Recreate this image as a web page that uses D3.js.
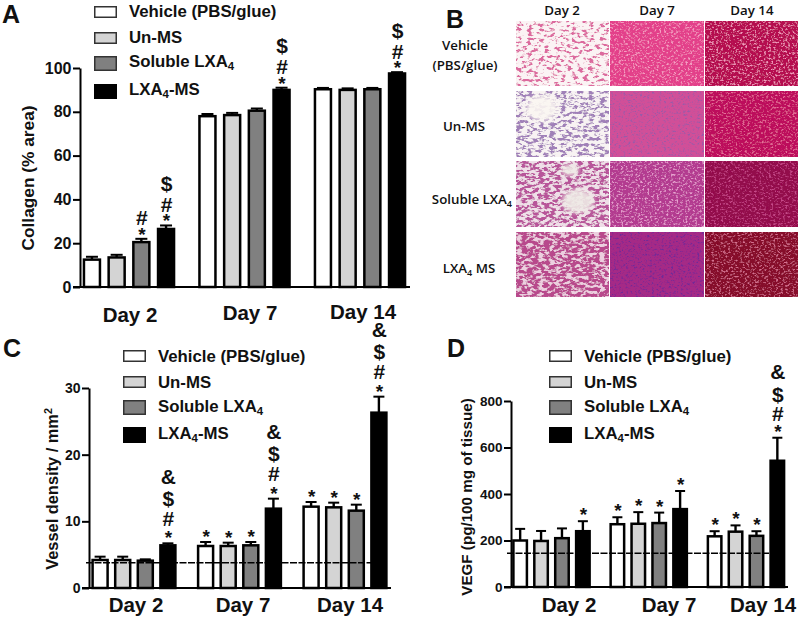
<!DOCTYPE html>
<html><head><meta charset="utf-8">
<script src="https://cdnjs.cloudflare.com/ajax/libs/d3/7.8.5/d3.min.js"></script>
<style>html,body{margin:0;padding:0;background:#fff}svg{display:block}text{font-family:"Liberation Sans",Arial,sans-serif;font-weight:700;fill:#111}</style>
</head><body><svg id="c" width="800" height="619"></svg>
<script>
const days = ["Day 2","Day 7","Day 14"];
const groups = ["Vehicle (PBS/glue)","Un-MS","Soluble LXA4","LXA4-MS"];
const groupColors = ["#ffffff","#d4d4d4","#808080","#000000"];

const collagenMeans  = [[12.5,13.5,20.5,26.5],[78,78.5,80.5,90],[90.3,90,90.3,97.5]];
const collagenErrors = [[1.3,1.2,1.5,1.6],[1,1,1,1],[.6,.7,.6,.6]];
const collagenMarks  = [["","","*#","*#$"],["","","","*#$"],["","","","*#$"]];
const collagenTicks  = [0,20,40,60,80,100];

const vesselMeans  = [[4.2,4.2,4.1,6.4],[6.3,6.3,6.4,11.9],[12.2,12.1,11.6,26.3]];
const vesselErrors = [[.5,.5,.2,.3],[.6,.5,.5,1.5],[.7,.7,.9,2.4]];
const vesselMarks  = [["","","","*#$&"],["*","*","*","*#$&"],["*","*","*","*#$&"]];
const vesselTicks  = [0,10,20,30];
const vesselBaseline = 3.8;

const vegfMeans  = [[200,198,210,240],[270,272,275,335],[218,238,220,543]];
const vegfErrors = [[50,43,42,43],[30,50,45,78],[22,27,20,99]];
const vegfMarks  = [["","","","*"],["*","*","*","*"],["*","*","*","*#$&"]];
const vegfTicks  = [0,200,400,600,800];
const vegfBaseline = 145;

const histologyRows = ["Vehicle","Un-MS","Soluble LXA4","LXA4 MS"];
const tissueBase  = [["#fbf3f4","#e3408a","#b5104f"],["#f8f3f3","#d14f98","#bd0f5c"],["#efdfe8","#b33a90","#930e4c"],["#eccfdf","#a52a86","#860b2c"]];
const tissueSpeck = [["#dc6a9e","#f5a0c4","#f59ac0"],["#a080b8","#9a5aa8","#e8709c"],["#b8559a","#e8a0d0","#c8488a"],["#b84a8c","#6f2c98","#d87090"]];

const svg = d3.select("#c");
const defs = svg.append("defs");

function richText(sel, str){
  const m = str.match(/^(.*LXA)4(.*)$/);
  if(!m){ sel.text(str); return sel; }
  sel.append("tspan").text(m[1]);
  sel.append("tspan").attr("font-size","0.68em").attr("dy","0.3em").text("4");
  if(m[2]) sel.append("tspan").attr("dy","-0.2em").text(m[2]);
  return sel;
}

function panel(cfg){
  const g = svg.append("g");
  const y = d3.scaleLinear().domain(cfg.domain).range([cfg.y0,cfg.y1]);
  const outer = d3.scaleBand().domain(days).range(cfg.xr).paddingInner(cfg.padIn).paddingOuter(0);
  const inner = d3.scaleBand().domain(d3.range(4)).range([0,outer.bandwidth()]);
  const w = cfg.barW;
  const rows = cfg.means.flatMap((row,d)=>row.map((v,s)=>({v,s,d,e:cfg.errors[d][s],m:cfg.marks[d][s],
     cx:outer(days[d])+inner(s)+inner.bandwidth()/2})));
  const eb = g.selectAll("g.eb").data(rows).join("g");
  eb.append("line").attr("x1",d=>d.cx).attr("x2",d=>d.cx).attr("y1",d=>y(d.v)).attr("y2",d=>y(d.v+d.e))
    .attr("stroke","#000").attr("stroke-width",2.4);
  eb.append("line").attr("x1",d=>d.cx-cfg.cap/2).attr("x2",d=>d.cx+cfg.cap/2).attr("y1",d=>y(d.v+d.e)).attr("y2",d=>y(d.v+d.e))
    .attr("stroke","#000").attr("stroke-width",2);
  g.selectAll("rect.b").data(rows).join("rect")
    .attr("x",d=>d.cx-w/2+1.25).attr("width",w-2.5)
    .attr("y",d=>y(d.v)).attr("height",d=>cfg.y0-y(d.v))
    .attr("fill",d=>groupColors[d.s]).attr("stroke","#000").attr("stroke-width",2.5);
  g.append("line").attr("x1",cfg.baseX[0]).attr("x2",cfg.baseX[1]).attr("y1",cfg.y0).attr("y2",cfg.y0).attr("stroke","#000").attr("stroke-width",2);
  const ax = g.append("g").attr("transform",`translate(${cfg.axisX},0)`)
    .call(d3.axisLeft(y).tickValues(cfg.ticks).tickSize(cfg.tick).tickPadding(1.5).tickSizeOuter(0));
  ax.selectAll("path,line").attr("stroke","#000").attr("stroke-width",2);
  ax.selectAll("text").style("font-family",'"Liberation Sans"').style("font-weight",700).attr("font-size",cfg.tickFont).attr("fill","#111");
  if(cfg.dash!==undefined){
    g.append("line").attr("x1",cfg.dashX[0]).attr("x2",cfg.dashX[1]).attr("y1",y(cfg.dash)).attr("y2",y(cfg.dash))
      .attr("stroke","#000").attr("stroke-width",1.5).attr("stroke-dasharray","7 1.5");
  }
  const off = {"*":cfg.off[0],"#":cfg.off[1],"$":cfg.off[2],"&":cfg.off[3]};
  rows.filter(r=>r.m).forEach(r=>{
    const t = g.append("text").attr("text-anchor","middle");
    r.m.split("").forEach(ch=>{
      const isStar = ch==="*";
      t.append("tspan").attr("x",r.cx+0.5).attr("y",y(r.v+r.e)+off[ch]+(isStar?10:7.5))
       .attr("font-size",isStar?19:cfg.markFont).text(ch);
    });
  });
  g.append("text").attr("transform",`translate(${cfg.titleX},${cfg.titleY}) rotate(-90)`).attr("text-anchor","middle")
    .attr("font-size",cfg.titleFont).call(s=>cfg.title(s));
  days.forEach((d,i)=>g.append("text").attr("x",cfg.dayX[i]).attr("y",cfg.dayY[i]).attr("text-anchor","middle").attr("font-size",cfg.dayFont).text(d));
  groups.forEach((n,i)=>{
    g.append("rect").attr("x",cfg.legX+.75).attr("y",cfg.legY[i]+.75).attr("width",21.5).attr("height",cfg.legH[i]-1.5)
      .attr("fill",groupColors[i]).attr("stroke",i===3?"#000":"#333").attr("stroke-width",1.5);
    g.append("text").attr("x",cfg.legX+35).attr("y",cfg.legT[i]).attr("font-size",cfg.legFont).call(s=>richText(s,n));
  });
  g.append("text").attr("x",cfg.letter[0]).attr("y",cfg.letter[1]).attr("font-size",25).text(cfg.name);
}

panel({name:"A",letter:[2,23],means:collagenMeans,errors:collagenErrors,marks:collagenMarks,ticks:collagenTicks,domain:[0,100],
  y0:287,y1:68,xr:[79.6,409.4],padIn:.1446,barW:18.5,cap:12,baseX:[73,410],axisX:80,tick:7,tickFont:16,
  off:[-8,-21,-42,-64],markFont:21,
  title:s=>s.text("Collagen (% area)"),titleX:34,titleY:178,titleFont:17.3,
  dayX:[130,250,363],dayY:[322,320,319],dayFont:20.5,
  legX:94,legY:[6,32,56,84],legH:[12,12,15,15],legT:[17,43,67,95],legFont:16.8});

panel({name:"C",letter:[3,357],means:vesselMeans,errors:vesselErrors,marks:vesselMarks,ticks:vesselTicks,domain:[0,30],
  y0:588,y1:388,xr:[88.8,390.2],padIn:.1431,barW:17.5,cap:11,baseX:[82,391],axisX:89,tick:7,tickFont:14,
  off:[-9,-25,-45,-67],markFont:21,
  title:s=>{s.append("tspan").text("Vessel density / mm");s.append("tspan").attr("font-size","0.65em").attr("dy","-0.55em").text("2");},titleX:58,titleY:489,titleFont:16.4,
  dash:vesselBaseline,dashX:[86,382],
  dayX:[136,243,350],dayY:[612,612,612],dayFont:20.5,
  legX:123,legY:[350,376,400,427],legH:[12,12,15,16],legT:[362,388,412,439],legFont:16.8});

panel({name:"D",letter:[447,357],means:vegfMeans,errors:vegfErrors,marks:vegfMarks,ticks:vegfTicks,domain:[0,800],
  y0:587,y1:401,xr:[509.7,787.8],padIn:.14,barW:16,cap:10,baseX:[504,788],axisX:511,tick:7,tickFont:13.5,
  off:[-10,-24,-43,-66],markFont:21,
  title:s=>s.text("VEGF (pg/100 mg of tissue)"),titleX:472,titleY:497,titleFont:15.2,
  dash:vegfBaseline,dashX:[507,783],
  dayX:[569,669,763],dayY:[612,612,612],dayFont:20.5,
  legX:549,legY:[350,376,400,427],legH:[12,12,15,16],legT:[362,388,412,439],legFont:16.8});

// Panel B: histology tiles, rendered as procedural texture
const colX = d3.scaleBand().domain(days).range([516,798]).paddingInner(.03).paddingOuter(0);
const rowY = d3.scaleBand().domain(histologyRows).range([21,297]).paddingInner(.085).paddingOuter(0);
const pb = svg.append("g");
defs.append("filter").attr("id","soft").append("feGaussianBlur").attr("stdDeviation",2.2);
histologyRows.forEach((r,ri)=>days.forEach((d,ci)=>{
  const id=`t${ri}${ci}`;
  const f=defs.append("filter").attr("id",id).attr("x",0).attr("y",0).attr("width","100%").attr("height","100%");
  f.append("feTurbulence").attr("type","fractalNoise").attr("baseFrequency",ci===0?"0.18 0.34":"0.42 0.55").attr("numOctaves",3).attr("seed",3+ri*3+ci*7).attr("result","n");
  const slope = ci===0?7:4, cut = ci===0?(-3.6+ri*.3):(-2.1);
  f.append("feColorMatrix").attr("in","n").attr("type","matrix")
    .attr("values",`0 0 0 0 0 0 0 0 0 0 0 0 0 0 0 ${slope} 0 0 0 ${cut}`).attr("result","a");
  f.append("feFlood").attr("flood-color",tissueSpeck[ri][ci]);
  f.append("feComposite").attr("in2","a").attr("operator","in").attr("result","sp");
  f.append("feFlood").attr("flood-color",tissueBase[ri][ci]).attr("result","bg");
  f.append("feMerge").attr("result","m").call(m=>{m.append("feMergeNode").attr("in","bg");m.append("feMergeNode").attr("in","sp");});
  f.append("feGaussianBlur").attr("in","m").attr("stdDeviation",.6);
  pb.append("rect").attr("x",colX(d)).attr("y",rowY(r)).attr("width",colX.bandwidth()).attr("height",rowY.bandwidth()).attr("filter",`url(#${id})`);
}));
// open spaces visible in the Day 2 sections
pb.append("ellipse").attr("cx",542).attr("cy",108).attr("rx",16).attr("ry",13).attr("fill","#fbf7f2").attr("opacity",.9).attr("filter","url(#soft)");
pb.append("ellipse").attr("cx",578).attr("cy",201).attr("rx",16).attr("ry",12).attr("fill","#efebe6").attr("opacity",.9).attr("filter","url(#soft)");
pb.append("ellipse").attr("cx",570).attr("cy",170).attr("rx",9).attr("ry",6).attr("fill","#efebe6").attr("opacity",.9).attr("filter","url(#soft)");
const lbl=(x,y,t,a)=>pb.append("text").attr("x",x).attr("y",y).attr("text-anchor",a||"middle")
  .style("font-family",'"Open Sans"').style("font-weight",600).attr("font-size",13.3).call(s=>richText(s,t));
days.forEach((d,i)=>lbl(colX(d)+colX.bandwidth()/2,15,d));
lbl(465,50,"Vehicle");lbl(465,70,"(PBS/glue)");lbl(464,131,"Un-MS");lbl(512,204,"Soluble LXA4","end");lbl(469,273,"LXA4 MS");
svg.append("text").attr("x",446).attr("y",28).attr("font-size",25).text("B");
</script></body></html>
